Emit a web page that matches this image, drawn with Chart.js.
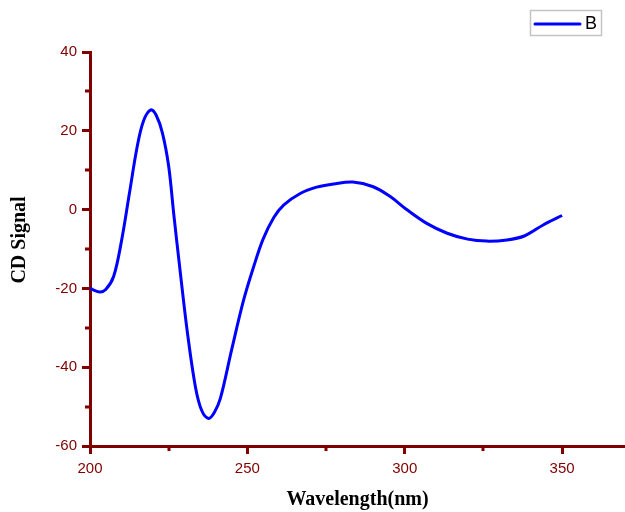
<!DOCTYPE html>
<html>
<head>
<meta charset="utf-8">
<script src="https://cdn.jsdelivr.net/npm/chart.js@4/dist/chart.umd.min.js"></script>
<style>
  html, body { margin: 0; padding: 0; background: #fff; }
  #wrap { width: 625px; height: 512px; }
</style>
</head>
<body>
<div id="wrap"><canvas id="c" width="625" height="512"></canvas></div>
<script>
// Data
const seriesName = 'B';
const xTitle = 'Wavelength(nm)';
const yTitle = 'CD Signal';
const wavelength = [200, 203, 205, 207.5, 210, 212.5, 215, 217, 219.3, 221, 223, 225, 226.6, 228.7, 231, 233.5, 235.5, 237.7, 239.5, 241.4, 245, 248.8, 252, 255, 258.4, 261.6, 266.8, 272, 277.4, 283.5, 290, 295.4, 300.5, 307, 313.5, 320, 326, 332.5, 338, 344, 350];
const cdSignal   = [-20.0, -20.9, -20.3, -17.0, -8.0, 4.0, 16.0, 22.5, 25.3, 24.0, 19.5, 11.0, -1.0, -16.0, -31.5, -45.0, -51.0, -53.0, -51.5, -48.0, -35.6, -23.0, -14.5, -7.5, -2.0, 1.2, 4.1, 5.7, 6.5, 7.0, 5.8, 3.3, 0.1, -3.5, -6.0, -7.5, -8.0, -7.7, -6.7, -3.9, -1.5];
const xMajorTicks = [200, 250, 300, 350];
const xMinorTicks = [225, 275, 325];
const yMajorTicks = [-60, -40, -20, 0, 20, 40];
const yMinorTicks = [-50, -30, -10, 10, 30];

const AXIS = '#800000';
const TITLE_FONT = 'bold 20px "Liberation Serif", "Times New Roman", serif';
const points = wavelength.map((x, i) => ({ x: x, y: cdSignal[i] }));

const minorTicksPlugin = {
  id: 'minorTicks',
  afterDraw(chart) {
    const ctx = chart.ctx;
    const xs = chart.scales.x, ys = chart.scales.y;
    ctx.save();
    ctx.strokeStyle = AXIS;
    ctx.lineWidth = 3;
    ctx.beginPath();
    xMinorTicks.forEach(v => {
      const px = Math.round(xs.getPixelForValue(v));
      ctx.moveTo(px, xs.top);
      ctx.lineTo(px, xs.top + 5);
    });
    yMinorTicks.forEach(v => {
      const py = Math.round(ys.getPixelForValue(v));
      ctx.moveTo(ys.right, py);
      ctx.lineTo(ys.right - 5, py);
    });
    ctx.stroke();
    ctx.restore();
  }
};

const yTitlePlugin = {
  id: 'yTitle',
  afterDraw(chart) {
    const ctx = chart.ctx;
    ctx.save();
    ctx.translate(20, 240);
    ctx.rotate(-Math.PI / 2);
    ctx.fillStyle = '#000';
    ctx.font = TITLE_FONT;
    ctx.textAlign = 'center';
    ctx.textBaseline = 'middle';
    ctx.fillText(yTitle, 0, 0);
    ctx.restore();
  }
};

const boxLegendPlugin = {
  id: 'boxLegend',
  afterDraw(chart) {
    const ctx = chart.ctx;
    const ds = chart.data.datasets[0];
    ctx.save();
    ctx.strokeStyle = '#c4c4c4';
    ctx.lineWidth = 1.5;
    ctx.strokeRect(530.5, 10.5, 71, 25);
    ctx.strokeStyle = ds.borderColor;
    ctx.lineWidth = 3;
    ctx.lineCap = 'round';
    ctx.beginPath();
    ctx.moveTo(535, 24);
    ctx.lineTo(580, 24);
    ctx.stroke();
    ctx.fillStyle = '#000';
    ctx.font = '18px "Liberation Sans", Arial, sans-serif';
    ctx.textBaseline = 'middle';
    ctx.textAlign = 'left';
    ctx.fillText(ds.label, 585, 24);
    ctx.restore();
  }
};

new Chart(document.getElementById('c'), {
  type: 'line',
  data: {
    datasets: [{
      label: seriesName,
      data: points,
      borderColor: '#0000ff',
      borderWidth: 3,
      pointRadius: 0,
      fill: false,
      tension: 0.35
    }]
  },
  options: {
    responsive: false,
    animation: false,
    devicePixelRatio: 1,
    layout: { padding: { top: 52, right: 0, left: 0, bottom: 0 } },
    plugins: { legend: { display: false }, tooltip: { enabled: false } },
    scales: {
      x: {
        type: 'linear',
        min: 200, max: 370,
        afterBuildTicks: s => { s.ticks = xMajorTicks.map(v => ({ value: v })); },
        afterFit: s => { s.height = 66; },
        border: { color: AXIS, width: 3 },
        grid: { drawOnChartArea: false, drawTicks: true, tickLength: 8, tickColor: AXIS, lineWidth: 3 },
        ticks: { color: AXIS, font: { size: 15, family: '"Liberation Sans", Arial, sans-serif' }, padding: 6, maxRotation: 0 },
        title: { display: true, text: xTitle, color: '#000', font: { size: 20, weight: 'bold', family: '"Liberation Serif", "Times New Roman", serif' }, padding: { top: 0, bottom: 0 } }
      },
      y: {
        type: 'linear',
        min: -60, max: 40,
        afterBuildTicks: s => { s.ticks = yMajorTicks.map(v => ({ value: v })); },
        afterFit: s => { s.width = 90; },
        border: { color: AXIS, width: 3 },
        grid: { drawOnChartArea: false, drawTicks: true, tickLength: 8, tickColor: AXIS, lineWidth: 3 },
        ticks: { color: AXIS, font: { size: 15, family: '"Liberation Sans", Arial, sans-serif' }, padding: 5 },
        title: { display: false }
      }
    }
  },
  plugins: [minorTicksPlugin, yTitlePlugin, boxLegendPlugin]
});
</script>
</body>
</html>
